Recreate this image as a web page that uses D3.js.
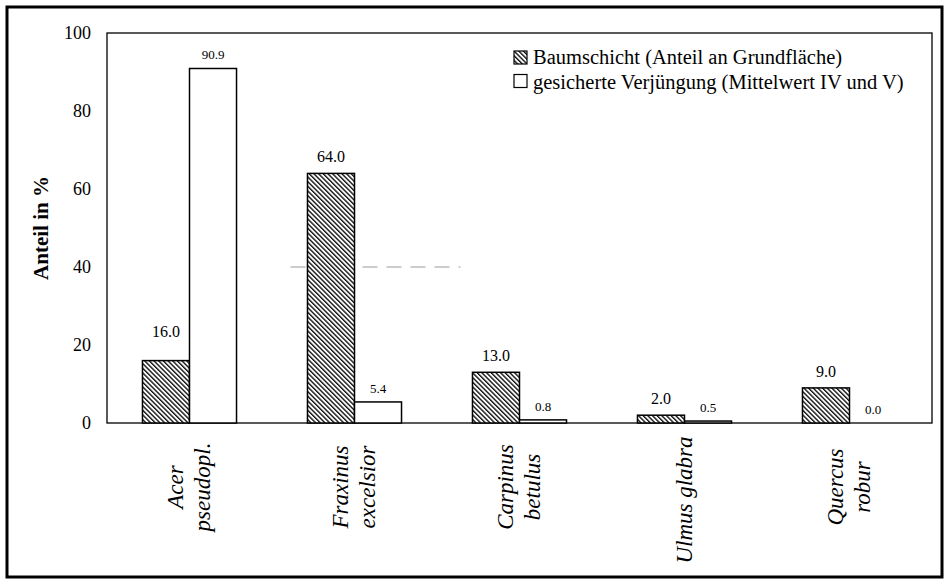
<!DOCTYPE html>
<html>
<head>
<meta charset="utf-8">
<script src="https://cdn.jsdelivr.net/npm/d3@7"></script>
<style>
  body { margin: 0; background: white; }
</style>
</head>
<body>
<div id="vis1"></div>
<script>
// data
var categories = [["Acer", "pseudopl."], ["Fraxinus", "excelsior"], ["Carpinus", "betulus"], ["Ulmus glabra"], ["Quercus", "robur"]];
var baumschicht = [16.0, 64.0, 13.0, 2.0, 9.0];
var verjuengung = [90.9, 5.4, 0.8, 0.5, 0.0];
var seriesNames = ["Baumschicht (Anteil an Grundfläche)", "gesicherte Verjüngung (Mittelwert IV und V)"];
var yTicks = [0, 20, 40, 60, 80, 100];

var W = 948, H = 579;
var margin = {top: 33, right: 16, bottom: 156, left: 107},
    width = W - margin.left - margin.right,
    height = H - margin.top - margin.bottom;

var svg = d3.select("#vis1")
  .append("svg")
    .attr("width", W)
    .attr("height", H);

// hatch pattern
var defs = svg.append("defs");
defs.append("pattern")
    .attr("id", "hatch")
    .attr("patternUnits", "userSpaceOnUse")
    .attr("width", 3.3)
    .attr("height", 10)
    .attr("patternTransform", "rotate(-45)")
  .call(function(p){
    p.append("rect").attr("width", 3.3).attr("height", 10).attr("fill", "white");
    p.append("line").attr("x1", 0.7).attr("y1", 0).attr("x2", 0.7).attr("y2", 10)
      .attr("stroke", "black").attr("stroke-width", 1.3);
  });

// outer frame
svg.append("rect")
  .attr("x", 7).attr("y", 7)
  .attr("width", 935).attr("height", 570)
  .attr("fill", "none")
  .attr("stroke", "black")
  .attr("stroke-width", 3);

var g = svg.append("g")
  .attr("transform", "translate(" + margin.left + "," + margin.top + ")");

var keys = categories.map(function(d){ return d.join(" "); });

var x = d3.scaleBand()
  .domain(keys)
  .range([0, width])
  .paddingInner(0.43)
  .paddingOuter(0.215);

var x1 = d3.scaleBand()
  .domain([0, 1])
  .range([0, x.bandwidth()]);

var y = d3.scaleLinear()
  .domain([0, 100])
  .range([height, 0]);

// faint dashed line at 40 (as in the scan)
g.append("line")
  .attr("x1", x(keys[1]) - 17).attr("x2", x(keys[2]) - 12)
  .attr("y1", y(40)).attr("y2", y(40))
  .attr("stroke", "#999")
  .attr("stroke-width", 1)
  .attr("stroke-dasharray", "15,9");

// plot border
g.append("rect")
  .attr("width", width).attr("height", height)
  .attr("fill", "none")
  .attr("stroke", "black")
  .attr("stroke-width", 1.3);

// y axis labels
g.selectAll(".ytick")
  .data(yTicks)
  .enter()
  .append("text")
  .attr("class", "ytick")
  .attr("x", -16)
  .attr("y", function(d){ return y(d); })
  .attr("dy", "0.35em")
  .attr("text-anchor", "end")
  .style("font-size", "18px")
  .text(function(d){ return d; });

var rows = keys.map(function(k, i){
  return {key: k, vals: [baumschicht[i], verjuengung[i]]};
});

var groups = g.selectAll(".grp")
  .data(rows)
  .enter()
  .append("g")
  .attr("transform", function(d){ return "translate(" + x(d.key) + ",0)"; });

groups.selectAll("rect")
  .data(function(d){ return d.vals; })
  .enter()
  .append("rect")
  .attr("x", function(d, i){ return x1(i); })
  .attr("y", function(d){ return y(d); })
  .attr("width", x1.bandwidth())
  .attr("height", function(d){ return height - y(d); })
  .attr("fill", function(d, i){ return i == 0 ? "url(#hatch)" : "white"; })
  .attr("stroke", "black")
  .attr("stroke-width", 1.5);

// value labels
groups.selectAll(".val")
  .data(function(d, j){ return d.vals.map(function(v){ return {v: v, j: j}; }); })
  .enter()
  .append("text")
  .attr("class", "val")
  .attr("x", function(d, i){ return x1(i) + x1.bandwidth() / 2; })
  .attr("y", function(d, i){
    var lift = i == 0 ? 11 : 9;
    if (i == 0 && d.j == 0) lift = 24;   // the 16.0 label sits higher
    return y(d.v) - lift;
  })
  .attr("text-anchor", "middle")
  .style("font-size", function(d, i){ return i == 0 ? "16px" : "13px"; })
  .text(function(d){ return d.v.toFixed(1); });

// category labels, rotated, italic
var lineH = 27;
categories.forEach(function(lines, i){
  var cx = x(keys[i]) + x.bandwidth() / 2;
  var cy = lines.length > 1 ? 487 : 500;
  lines.forEach(function(t, k){
    var off = (k - (lines.length - 1) / 2) * lineH;
    svg.append("text")
      .attr("transform", "translate(" + (margin.left + cx + off - 1) + "," + cy + ") rotate(-90)")
      .attr("dy", "0.35em")
      .attr("text-anchor", "middle")
      .style("font-size", "23px")
      .style("font-style", "italic")
      .text(t);
  });
});

// y axis title
svg.append("text")
  .attr("transform", "translate(48,228) rotate(-90)")
  .attr("text-anchor", "middle")
  .style("font-size", "21px")
  .style("font-weight", "bold")
  .text("Anteil in %");

// legend
var legend = svg.append("g");
seriesNames.forEach(function(name, i){
  legend.append("rect")
    .attr("x", 514).attr("y", 51 + i * 23.5)
    .attr("width", 13).attr("height", 13)
    .attr("fill", i == 0 ? "url(#hatch)" : "white")
    .attr("stroke", "black")
    .attr("stroke-width", 1.2);
  legend.append("text")
    .attr("x", 533).attr("y", 64 + i * 24.5)
    .style("font-size", "20.5px")
    .text(name);
});

// Times-like font on every label
svg.selectAll("text").style("font-family", "Liberation Serif");
</script>
</body>
</html>
